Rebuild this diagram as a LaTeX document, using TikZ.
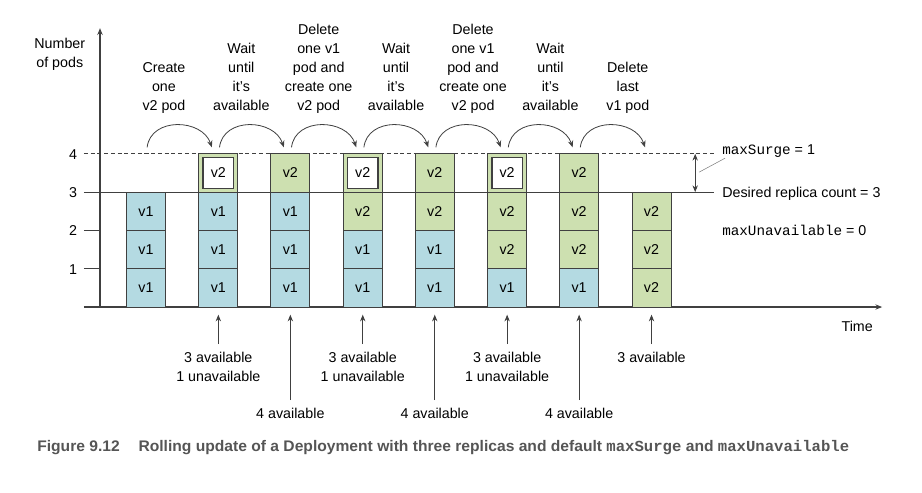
\documentclass[tikz,border=0pt]{standalone}
\usepackage{fontspec}
\setmainfont{Liberation Sans}
\setmonofont{Liberation Mono}
\usepackage{graphicx}
\usetikzlibrary{arrows.meta}
\definecolor{linegray}{HTML}{404040}
\definecolor{podblue}{HTML}{B4DAE2}
\definecolor{podgreen}{HTML}{CDE0B0}
\definecolor{capgray}{HTML}{555555}
\newcommand\fs{\fontsize{10.6}{14.1}\selectfont}
\tikzset{
 po/.style={rectangle,draw=linegray,line width=0.7pt,fill=podblue,minimum width=1.02cm,minimum height=1cm,inner sep=0pt,font=\fs},
 pn/.style={po,fill=podgreen},
 pw/.style={rectangle,draw=linegray,line width=1.1pt,fill=white,minimum size=0.8cm,inner sep=0pt,font=\fs},
 lb/.style={align=center,font=\fs,inner sep=0pt,text depth=0.25em,anchor=south},
 an/.style={align=center,font=\fs,inner xsep=0pt,inner ysep=0.2cm,anchor=north},
 ar/.style={-{Stealth[length=5pt,width=4pt]},draw=linegray,line width=0.6pt},
 ax/.style={draw=linegray,line width=0.8pt}}

\begin{document}
\begin{tikzpicture}[x=1cm,y=1cm]
 \useasboundingbox (-2.611,-4.830) rectangle (21.462,8.016);
 % axes and levels
 \coordinate (o) at (0,0);
 \coordinate (ytop) at (0,7.28);
 \coordinate (xl) at (-0.42,0);
 \coordinate (xr) at (20.42,0);
 \draw[ax,-{Stealth[length=5pt,width=4pt]}] (o)--(ytop);
 \draw[ax,-{Stealth[length=5pt,width=4pt]}] (xl)--(xr);
 \draw[ax] (-0.42,1)--(0,1) (-0.42,2)--(0,2) (-0.42,3)--(16.03,3);
 \draw[ax,line width=0.6pt,dash pattern=on 3pt off 2pt] (-0.42,4)--(16.03,4);
 \node[font=\fs,anchor=base] (l1) at (-0.70,0.86) {1};
 \node[font=\fs,anchor=base] (l2) at (-0.70,1.86) {2};
 \node[font=\fs,anchor=base] (l3) at (-0.70,2.86) {3};
 \node[font=\fs,anchor=base] (l4) at (-0.70,3.86) {4};
 \node[font=\fs,align=center] (ylab) at (-1.05,6.61) {Number\\of pods};
 \node[font=\fs,anchor=base] (xlab) at (19.77,-0.65) {Time};
 % pods
 \node[po] (a1) at (1.2,0.5) {v1};
 \node[po] (a2) at (1.2,1.5) {v1};
 \node[po] (a3) at (1.2,2.5) {v1};
 \node[po] (b1) at (3.09,0.5) {v1};
 \node[po] (b2) at (3.09,1.5) {v1};
 \node[po] (b3) at (3.09,2.5) {v1};
 \node[pn] (b4) at (3.09,3.5) {};
 \node[pw] (b5) at (3.09,3.5) {v2};
 \node[po] (c1) at (4.97,0.5) {v1};
 \node[po] (c2) at (4.97,1.5) {v1};
 \node[po] (c3) at (4.97,2.5) {v1};
 \node[pn] (c4) at (4.97,3.5) {v2};
 \node[po] (d1) at (6.86,0.5) {v1};
 \node[po] (d2) at (6.86,1.5) {v1};
 \node[pn] (d3) at (6.86,2.5) {v2};
 \node[pn] (d4) at (6.86,3.5) {};
 \node[pw] (d5) at (6.86,3.5) {v2};
 \node[po] (e1) at (8.74,0.5) {v1};
 \node[po] (e2) at (8.74,1.5) {v1};
 \node[pn] (e3) at (8.74,2.5) {v2};
 \node[pn] (e4) at (8.74,3.5) {v2};
 \node[po] (f1) at (10.63,0.5) {v1};
 \node[pn] (f2) at (10.63,1.5) {v2};
 \node[pn] (f3) at (10.63,2.5) {v2};
 \node[pn] (f4) at (10.63,3.5) {};
 \node[pw] (f5) at (10.63,3.5) {v2};
 \node[po] (g1) at (12.51,0.5) {v1};
 \node[pn] (g2) at (12.51,1.5) {v2};
 \node[pn] (g3) at (12.51,2.5) {v2};
 \node[pn] (g4) at (12.51,3.5) {v2};
 \node[pn] (h1) at (14.4,0.5) {v2};
 \node[pn] (h2) at (14.4,1.5) {v2};
 \node[pn] (h3) at (14.4,2.5) {v2};
 % steps
 \node[lb] (s1) at (1.67,5.03) {Create\\one\\v2 pod};
 \node[lb] (s2) at (3.69,5.03) {Wait\\until\\it's\\available};
 \node[lb] (s3) at (5.71,5.03) {Delete\\one v1\\pod and\\create one\\v2 pod};
 \node[lb] (s4) at (7.73,5.03) {Wait\\until\\it's\\available};
 \node[lb] (s5) at (9.74,5.03) {Delete\\one v1\\pod and\\create one\\v2 pod};
 \node[lb] (s6) at (11.76,5.03) {Wait\\until\\it's\\available};
 \node[lb] (s7) at (13.78,5.03) {Delete\\last\\v1 pod};
 \coordinate (ta) at (1.23,4.17);
 \coordinate (tb) at (3.12,4.17);
 \coordinate (tc) at (5.0,4.17);
 \coordinate (td) at (6.89,4.17);
 \coordinate (te) at (8.77,4.17);
 \coordinate (tf) at (10.66,4.17);
 \coordinate (tg) at (12.54,4.17);
 \coordinate (th) at (14.43,4.17);
 \draw[ar] (ta) .. controls +(0.1,0.8) and +(-0.25,0.75) .. ([xshift=-0.2cm]tb);
 \draw[ar] (tb) .. controls +(0.1,0.8) and +(-0.25,0.75) .. ([xshift=-0.2cm]tc);
 \draw[ar] (tc) .. controls +(0.1,0.8) and +(-0.25,0.75) .. ([xshift=-0.2cm]td);
 \draw[ar] (td) .. controls +(0.1,0.8) and +(-0.25,0.75) .. ([xshift=-0.2cm]te);
 \draw[ar] (te) .. controls +(0.1,0.8) and +(-0.25,0.75) .. ([xshift=-0.2cm]tf);
 \draw[ar] (tf) .. controls +(0.1,0.8) and +(-0.25,0.75) .. ([xshift=-0.2cm]tg);
 \draw[ar] (tg) .. controls +(0.1,0.8) and +(-0.25,0.75) .. ([xshift=-0.2cm]th);
 % availability
 \coordinate (ub) at (3.09,-0.2);
 \coordinate (uc) at (4.97,-0.2);
 \coordinate (ud) at (6.86,-0.2);
 \coordinate (ue) at (8.74,-0.2);
 \coordinate (uf) at (10.63,-0.2);
 \coordinate (ug) at (12.51,-0.2);
 \coordinate (uh) at (14.4,-0.2);
 \node[an] (nb) at (3.09,-0.97) {3 available\\1 unavailable};
 \node[an] (nc) at (4.97,-2.43) {4 available};
 \node[an] (nd) at (6.86,-0.97) {3 available\\1 unavailable};
 \node[an] (ne) at (8.74,-2.43) {4 available};
 \node[an] (nf) at (10.63,-0.97) {3 available\\1 unavailable};
 \node[an] (ng) at (12.51,-2.43) {4 available};
 \node[an] (nh) at (14.4,-0.97) {3 available};
 \draw[ar] (nb)--(ub);
 \draw[ar] (nc)--(uc);
 \draw[ar] (nd)--(ud);
 \draw[ar] (ne)--(ue);
 \draw[ar] (nf)--(uf);
 \draw[ar] (ng)--(ug);
 \draw[ar] (nh)--(uh);
 % settings
 \node[font=\fs,anchor=base west,inner sep=0pt] (ms) at (16.24,3.97) {\texttt{maxSurge} = 1};
 \node[font=\fs,anchor=base west,inner sep=0pt] (dr) at (16.24,2.85) {Desired replica count = 3};
 \node[font=\fs,anchor=base west,inner sep=0pt] (mu) at (16.24,1.88) {\texttt{maxUnavailable} = 0};
 \coordinate (sa) at (15.54,4);
 \coordinate (sb) at (15.54,3);
 \coordinate (lk) at (15.64,3.52);
 \draw[ar,{Stealth[length=5pt,width=4pt]}-{Stealth[length=5pt,width=4pt]}] (sa)--(sb);
 \draw[draw=gray,line width=0.4pt] (lk)--([xshift=0.08cm]ms.south west);
 % caption
 \node[anchor=base west,inner sep=0pt,text=capgray,font=\fontsize{11.4}{13}\selectfont\bfseries] (cap) at (-1.645,-3.76)
  {\resizebox{21.2cm}{\height}{Figure 9.12\hspace{1.2em}Rolling update of a Deployment with three replicas and default \texttt{maxSurge} and \texttt{maxUnavailable}}};
\end{tikzpicture}
\end{document}
